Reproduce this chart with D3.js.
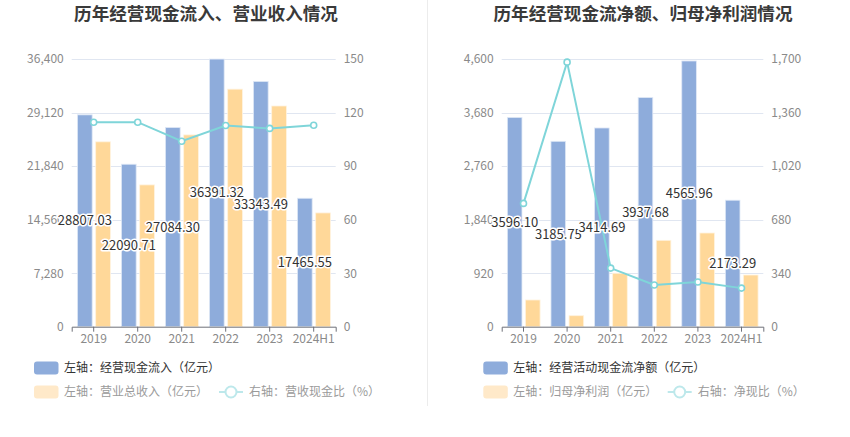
<!DOCTYPE html>
<html><head><meta charset="utf-8">
<script src="https://cdn.jsdelivr.net/npm/d3@7/dist/d3.min.js"></script>
<style>
body{margin:0;background:#fff;}
svg{display:block;font-family:"Noto Sans CJK SC","Noto Sans",sans-serif;}
</style></head><body>
<svg id="c" width="850" height="437"></svg>
<script>
const categories = ["2019","2020","2021","2022","2023","2024H1"];
// Left chart
const cashInflow = [28807.03, 22090.71, 27084.30, 36391.32, 33343.49, 17465.55];
const revenue = [25140, 19280, 26080, 32300, 30010, 15470];
const revCashRatio = [114.6, 114.6, 103.9, 112.7, 111.1, 112.9];
const leftTicksL = [0, 7280, 14560, 21840, 29120, 36400];
const leftTicksR = [0, 30, 60, 90, 120, 150];
// Right chart
const netCashFlow = [3596.10, 3185.75, 3414.69, 3937.68, 4565.96, 2173.29];
const netProfit = [459, 189, 918, 1484, 1610, 888];
const netCashRatio = [783, 1680, 372, 265, 284, 245];
const rightTicksL = [0, 920, 1840, 2760, 3680, 4600];
const rightTicksR = [0, 340, 680, 1020, 1360, 1700];

const svg = d3.select("#c");
const BLUE = "#8eacdb", ORANGE = "#ffd899", TEAL = "#7fd5d9";
const fmt = d3.format(",");

// divider
svg.append("line").attr("x1",427.5).attr("x2",427.5).attr("y1",0).attr("y2",406)
  .attr("stroke","#ececec").attr("stroke-width",1);

function panel(cfg){
  const g = svg.append("g");
  g.append("text").attr("x",cfg.titleX).attr("y",20).attr("text-anchor","middle")
    .attr("font-size",17.6).attr("font-weight","bold").attr("fill","#3a3a3a").text(cfg.title);
  const x = d3.scaleBand().domain(categories).range([cfg.x0,cfg.x1]);
  const yL = d3.scaleLinear().domain([0,d3.max(cfg.ticksL)]).range([326.7,59]);
  const yR = d3.scaleLinear().domain([0,d3.max(cfg.ticksR)]).range([326.7,59]);
  const bw = x.bandwidth();
  // grid
  g.append("g").selectAll("line").data(cfg.ticksL.slice(1)).join("line")
    .attr("x1",cfg.x0).attr("x2",cfg.x1).attr("y1",d=>Math.round(yL(d))+0.5).attr("y2",d=>Math.round(yL(d))+0.5)
    .attr("stroke","#e0e6f1");
  // axes
  const aL = g.append("g").attr("transform",`translate(${cfg.x0},0)`)
    .call(d3.axisLeft(yL).tickValues(cfg.ticksL).tickFormat(fmt).tickSize(0).tickPadding(8));
  aL.select(".domain").remove();
  const aR = g.append("g").attr("transform",`translate(${cfg.x1},0)`)
    .call(d3.axisRight(yR).tickValues(cfg.ticksR).tickFormat(fmt).tickSize(0).tickPadding(8));
  aR.select(".domain").remove();
  [aL,aR].forEach(a=>a.selectAll("text").attr("font-size",12).attr("fill","#8a8a8a").attr("font-family","'Noto Sans CJK SC',sans-serif"));
  // bars
  const cx = d=>x(d)+bw/2;
  g.append("g").selectAll("rect").data(cfg.bars1).join("rect")
    .attr("x",(d,i)=>cx(categories[i])-bw*0.37).attr("width",bw*0.335)
    .attr("y",d=>yL(d)).attr("height",d=>yL(0)-yL(d))
    .attr("fill",BLUE).attr("stroke","#dfe8f6").attr("stroke-width",0.8);
  g.append("g").selectAll("rect").data(cfg.bars2).join("rect")
    .attr("x",(d,i)=>cx(categories[i])+bw*0.045).attr("width",bw*0.335)
    .attr("y",d=>yL(d)).attr("height",d=>yL(0)-yL(d))
    .attr("fill",ORANGE).attr("stroke","#fff3df").attr("stroke-width",0.8);
  // x axis
  const ax = g.append("g").attr("transform","translate(0,326.7)")
    .call(d3.axisBottom(x).tickSize(5).tickPadding(3));
  ax.select(".domain").attr("stroke","#6e7079");
  ax.selectAll(".tick line").attr("stroke","#6e7079");
  ax.selectAll("text").attr("font-size",12).attr("fill","#8a8a8a").attr("font-family","'Noto Sans CJK SC',sans-serif");
  // line
  const line = d3.line().x((d,i)=>cx(categories[i])).y(d=>yR(d));
  g.append("path").datum(cfg.ratio).attr("d",line).attr("fill","none").attr("stroke",TEAL).attr("stroke-width",2);
  g.append("g").selectAll("circle").data(cfg.ratio).join("circle")
    .attr("cx",(d,i)=>cx(categories[i])).attr("cy",d=>yR(d)).attr("r",3)
    .attr("fill","#fff").attr("stroke",TEAL).attr("stroke-width",1.6);
  // labels
  g.append("g").selectAll("text").data(cfg.bars1).join("text")
    .attr("x",(d,i)=>cx(categories[i])-bw*0.2).attr("y",d=>(yL(d)+yL(0))/2)
    .attr("dy","0.35em").attr("text-anchor","middle").attr("font-size",13)
    .attr("fill","#333").attr("stroke","#fff").attr("stroke-width",3).attr("paint-order","stroke")
    .attr("stroke-linejoin","round").text(d=>d.toFixed(2));
  // legend
  const lg = g.append("g");
  const L = cfg.legend;
  lg.append("rect").attr("x",L.x).attr("y",361.5).attr("width",24.5).attr("height",13).attr("rx",3).attr("fill",BLUE);
  lg.append("text").attr("x",L.x+30).attr("y",368).attr("dy","0.35em").attr("font-size",12).attr("fill","#333").text(L.t1);
  lg.append("rect").attr("x",L.x).attr("y",385.5).attr("width",24.5).attr("height",13).attr("rx",3).attr("fill","#ffe9c9");
  lg.append("text").attr("x",L.x+30).attr("y",392).attr("dy","0.35em").attr("font-size",12).attr("fill","#9a9a9a").text(L.t2);
  lg.append("line").attr("x1",L.lx).attr("x2",L.lx+24).attr("y1",392).attr("y2",392).attr("stroke","#bde8eb").attr("stroke-width",2);
  lg.append("circle").attr("cx",L.lx+12).attr("cy",392).attr("r",5.5).attr("fill","#fff").attr("stroke","#bde8eb").attr("stroke-width",2);
  lg.append("text").attr("x",L.lx+30).attr("y",392).attr("dy","0.35em").attr("font-size",12).attr("fill","#9a9a9a").text(L.t3);
}

panel({title:"历年经营现金流入、营业收入情况", titleX:206, x0:71.7, x1:335.7,
  ticksL:leftTicksL, ticksR:leftTicksR, bars1:cashInflow, bars2:revenue, ratio:revCashRatio,
  legend:{x:34, lx:219, t1:"左轴：经营现金流入（亿元）", t2:"左轴：营业总收入（亿元）", t3:"右轴：营收现金比（%）"}});
panel({title:"历年经营现金流净额、归母净利润情况", titleX:643, x0:501.7, x1:763.3,
  ticksL:rightTicksL, ticksR:rightTicksR, bars1:netCashFlow, bars2:netProfit, ratio:netCashRatio,
  legend:{x:483.3, lx:667.7, t1:"左轴：经营活动现金流净额（亿元）", t2:"左轴：归母净利润（亿元）", t3:"右轴：净现比（%）"}});
</script></body></html>
